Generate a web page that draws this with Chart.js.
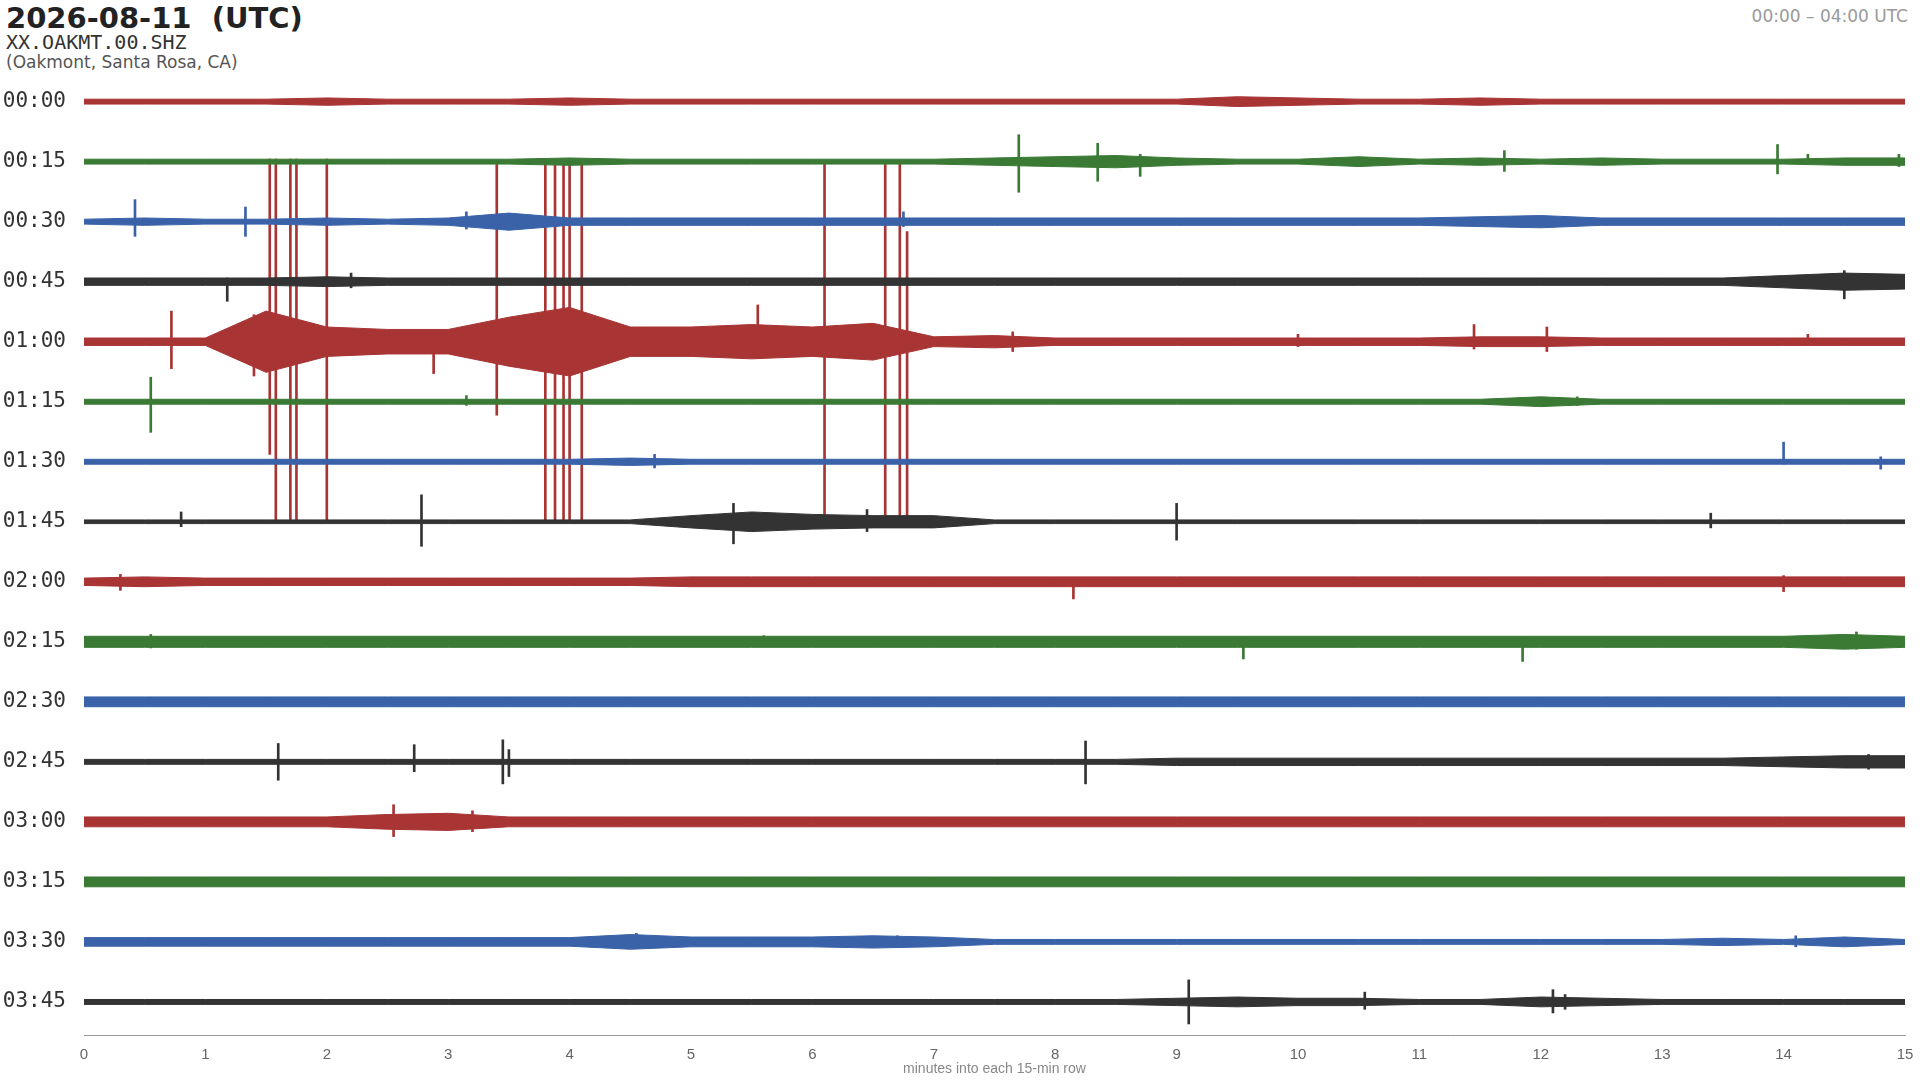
<!DOCTYPE html>
<html><head><meta charset="utf-8">
<script src="https://cdn.jsdelivr.net/npm/chart.js@4"></script>
<style>
body{margin:0;background:#fff;width:1920px;height:1080px;overflow:hidden;font-family:"DejaVu Sans",sans-serif}
#t{position:absolute;left:6px;top:1px;font-weight:bold;font-size:29px;color:#222}
#s1{position:absolute;left:6px;top:30px;font-family:"DejaVu Sans Mono",monospace;font-size:20px;color:#333}
#s2{position:absolute;left:6px;top:52px;font-size:17px;color:#555}
#r{position:absolute;right:12px;top:6px;font-size:17px;color:#999}
canvas{position:absolute;left:0;top:0}
</style></head><body>
<div id="t">2026-08-11&nbsp; (UTC)</div>
<div id="s1">XX.OAKMT.00.SHZ</div>
<div id="s2">(Oakmont, Santa Rosa, CA)</div>
<div id="r">00:00 – 04:00 UTC</div>
<canvas id="c" width="1920" height="1080"></canvas>
<script>
const rowLabels=["00:00","00:15","00:30","00:45","01:00","01:15","01:30","01:45","02:00","02:15","02:30","02:45","03:00","03:15","03:30","03:45"];
const rowColors=["#a83434","#3a7a34","#3a62a8","#333333"];
const minutes=[0,1,2,3,4,5,6,7,8,9,10,11,12,13,14,15];
// half-amplitude envelope (reference px) every 0.5 minute, 31 values per row
const env00=[2,2,2,2,3,2,2,2,3,2,2,2,2,2,2,2,2,2,2,4,3,2,2,3,2,2,2,2,2,2,2];
const env15=[2,2,2,2,2,2,2,2,3,2,2,2,2,2,2,3,4,5,3,2,2,4,2,3,2,3,2,2,2,3,3];
const env30=[2,3,2,2,3,2,3,7,3,3,3,3,3,3,3,3,3,3,3,3,3,3,3,4,5,3,3,3,3,3,3];
const env45=[3,3,3,3,4,3,3,3,3,3,3,3,3,3,3,3,3,3,3,3,3,3,3,3,3,3,3,3,5,7,6];
const env60=[3,3,3,25,12,10,10,20,28,12,12,14,12,15,4,5,3,3,3,3,3,3,3,4,4,3,3,3,3,3,3];
const env75=[2,2,2,2,2,2,2,2,2,2,2,2,2,2,2,2,2,2,2,2,2,2,2,2,4,2,2,2,2,2,2];
const env90=[2,2,2,2,2,2,2,2,2,3,2,2,2,2,2,2,2,2,2,2,2,2,2,2,2,2,2,2,2,2,2];
const env105=[1.5,1.5,1.5,1.5,1.5,1.5,1.5,1.5,1.5,1.5,5,8,6,5,5,1.5,1.5,1.5,1.5,1.5,1.5,1.5,1.5,1.5,1.5,1.5,1.5,1.5,1.5,1.5,1.5];
const env120=[3,4,3,3,3,3,3,3,3,3,4,4,4,4,4,4,4,4,4,4,4,4,4,4,4,4,4,4,4,4,4];
const env135=[4.5,4.5,4.5,4.5,4.5,4.5,4.5,4.5,4.5,4.5,4.5,4.5,4.5,4.5,4.5,4.5,4.5,4.5,4.5,4.5,4.5,4.5,4.5,4.5,4.5,4.5,4.5,4.5,4.5,6,4.5];
const env150=[4,4,4,4,4,4,4,4,4,4,4,4,4,4,4,4,4,4,4,4,4,4,4,4,4,4,4,4,4,4,4];
const env165=[2,2,2,2,2,2,2,2,2,2,2,2,2,2,2,2,2,2,3,3,3,3,3,3,3,3,3,3,4,5,5];
const env180=[4,4,4,4,4,6,7,4,4,4,4,4,4,4,4,4,4,4,4,4,4,4,4,4,4,4,4,4,4,4,4];
const env195=[4,4,4,4,4,4,4,4,4,4,4,4,4,4,4,4,4,4,4,4,4,4,4,4,4,4,4,4,4,4,4];
const env210=[3.5,3.5,3.5,3.5,3.5,3.5,3.5,3.5,3.5,6,4,4,4,5,4,2,2,2,2,2,2,2,2,2,2,2,2,3,2,4,2];
const env225=[2,2,2,2,2,2,2,2,2,2,2,2,2,2,2,2,2,2,3,4,3,3,2,2,4,3,2,2,2,2,2];
const envelopes=[env00,env15,env30,env45,env60,env75,env90,env105,env120,env135,env150,env165,env180,env195,env210,env225];
// spikes: [row, minute, up (px), down (px)]
const spikes=[[1,7.7,22,25],[1,8.35,15,16],[1,8.7,6,12],[1,11.7,9,8],[1,13.95,14,10],[1,14.2,6,2],[1,14.95,6,4],
[2,0.42,18,12],[2,1.33,12,12],[2,3.15,8,6],[2,6.75,8,4],
[3,1.18,3,16],[3,2.2,7,5],[3,14.5,9,14],
[4,0.72,25,22],[4,1.4,22,28],[4,1.53,149,92],[4,1.58,149,147],[4,1.7,149,147],[4,1.75,149,147],[4,2.0,149,147],[4,2.88,8,26],[4,3.4,145,60],[4,3.8,148,147],[4,3.88,148,147],[4,3.95,148,147],[4,4.0,148,147],[4,4.1,148,147],[4,5.55,30,10],[4,6.1,148,147],[4,6.6,148,147],[4,6.72,148,147],[4,6.78,90,147],[4,7.65,8,8],[4,10.0,6,4],[4,11.45,14,6],[4,12.05,12,8],[4,14.2,6,3],
[5,0.55,20,25],[5,3.15,5,3],[5,12.3,4,3],
[6,4.7,6,5],[6,14.0,16,2],[6,14.8,4,6],
[7,0.8,8,4],[7,2.78,22,20],[7,5.35,15,18],[7,6.45,10,8],[7,9.0,15,15],[7,13.4,7,5],
[8,0.3,6,7],[8,8.15,3,14],[8,14.0,5,8],
[9,0.55,6,5],[9,5.6,5,4],[9,9.55,4,14],[9,11.85,4,16],[9,14.6,8,6],
[11,1.6,15,15],[11,2.72,14,8],[11,3.45,18,18],[11,3.5,10,12],[11,8.25,17,18],[11,14.7,6,6],
[12,2.55,14,12],[12,3.2,9,8],
[14,4.55,7,5],[14,6.7,5,4],[14,14.1,5,4],
[15,9.1,18,18],[15,10.55,8,6],[15,12.1,10,9],[15,12.2,6,6]];
const rowStep=49;

const datasets=[];
envelopes.forEach((e,i)=>{
  const c=rowColors[i%4], y0=i*rowStep;
  datasets.push({type:'line',data:e.map((a,k)=>({x:k*0.5,y:y0-a})),borderColor:c,borderWidth:1,pointRadius:0,tension:0,fill:false});
  datasets.push({type:'line',data:e.map((a,k)=>({x:k*0.5,y:y0+a})),borderColor:c,backgroundColor:c,borderWidth:1,pointRadius:0,tension:0,fill:'-1'});
});
datasets.push({type:'bar',data:spikes.map(s=>({x:s[1],y:[s[0]*rowStep-s[2],s[0]*rowStep+s[3]]})),
  backgroundColor:spikes.map(s=>rowColors[s[0]%4]),barThickness:2,grouped:false});

new Chart(document.getElementById('c'),{
  data:{datasets},
  options:{responsive:false,animation:false,
    layout:{padding:{top:71,right:15,left:0,bottom:0}},
    plugins:{legend:{display:false},tooltip:{enabled:false}},
    scales:{
      x:{type:'linear',min:0,max:15,offset:false,grid:{display:false,drawTicks:true},
        border:{color:'#999'},
        afterFit:s=>{s.height=45;},
        ticks:{stepSize:1,color:'#666',font:{size:15},callback:v=>v},
        afterBuildTicks:s=>{s.ticks=minutes.map(v=>({value:v}));},
        title:{display:true,text:'minutes into each 15-min row',color:'#888',font:{size:14},padding:{top:0,bottom:2}}},
      y:{type:'linear',reverse:true,min:-25,max:15*rowStep+27,grid:{display:false},border:{display:false},
        afterBuildTicks:s=>{s.ticks=rowLabels.map((l,i)=>({value:i*rowStep}));},
        afterFit:s=>{s.width=84;},
        ticks:{color:'#333',font:{family:'DejaVu Sans Mono',size:21},padding:10,
          callback:(v)=>rowLabels[Math.round(v/rowStep)]}}
    }
  }
});
</script></body></html>
